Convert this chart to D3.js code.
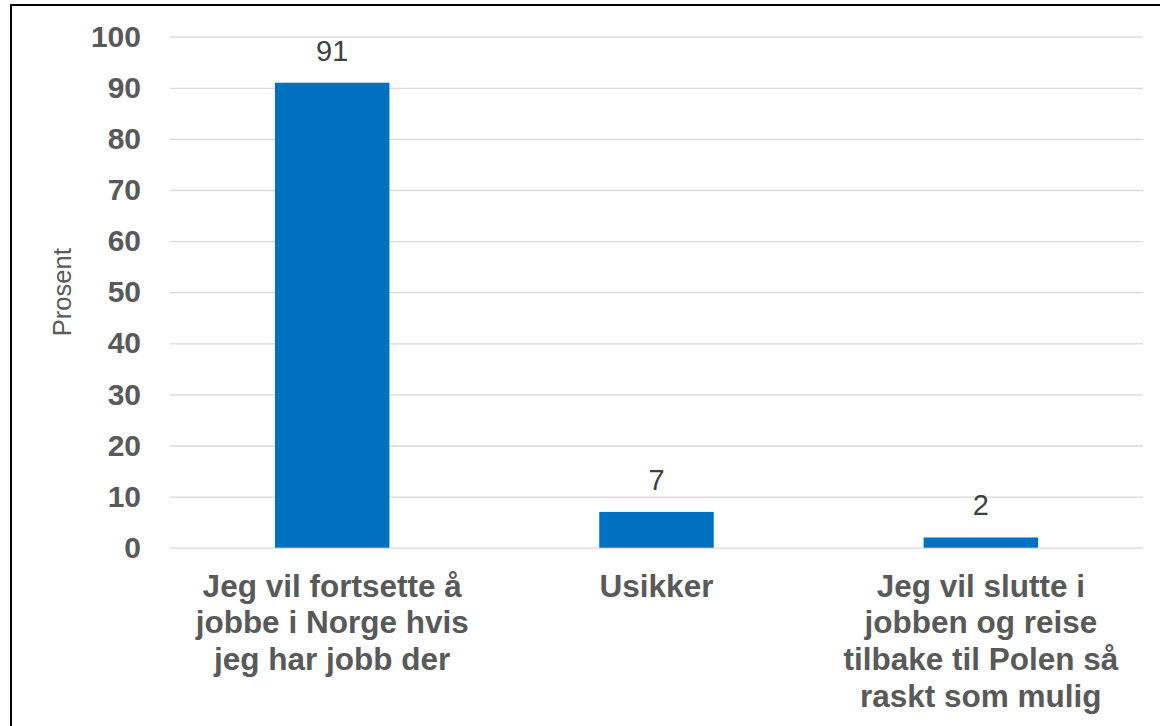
<!DOCTYPE html>
<html>
<head>
<meta charset="utf-8">
<script src="https://cdn.jsdelivr.net/npm/d3@7"></script>
<style>
  html, body { margin: 0; padding: 0; background: #fff; }
  svg { display: block; font-family: "Liberation Sans", Arial, sans-serif; }
</style>
</head>
<body>
<script>
(function () {
    "use strict";

    // data
    var categories = ["fortsette", "usikker", "slutte"];
    var values = [91, 7, 2];
    var categoryLines = [
        ["Jeg vil fortsette å", "jobbe i Norge hvis", "jeg har jobb der"],
        ["Usikker"],
        ["Jeg vil slutte i", "jobben og reise", "tilbake til Polen så", "raskt som mulig"]
    ];
    var yTicks = [0, 10, 20, 30, 40, 50, 60, 70, 80, 90, 100];
    var yTitle = "Prosent";

    var width = 1160, height = 726;
    var plot = {left: 170, right: 1143, top: 36.7, bottom: 547.7};

    var svg = d3.select("body").append("svg")
            .attr("width", width)
            .attr("height", height);

    svg.append("rect")
            .attr("width", width)
            .attr("height", height)
            .attr("fill", "white");

    // frame around the chart (runs off the right and bottom edges)
    svg.append("rect")
            .attr("x", 11)
            .attr("y", 5)
            .attr("width", width + 20)
            .attr("height", height + 20)
            .attr("fill", "none")
            .attr("stroke", "#000")
            .attr("stroke-width", 2);

    var x = d3.scaleBand()
            .domain(categories)
            .range([plot.left, plot.right])
            .paddingInner(0.647)
            .paddingOuter(0.3235);

    var y = d3.scaleLinear()
            .domain([0, 100])
            .range([plot.bottom, plot.top]);

    // gridlines + tick labels
    var yAxis = svg.append("g")
            .attr("transform", "translate(" + plot.left + ",0)")
            .call(d3.axisLeft(y)
                    .tickValues(yTicks)
                    .tickSize(-(plot.right - plot.left))
                    .tickPadding(29));

    yAxis.select(".domain").remove();
    yAxis.selectAll(".tick line")
            .attr("stroke", "#d9d9d9")
            .attr("stroke-width", 1.3);
    yAxis.selectAll(".tick text")
            .attr("fill", "#595959")
            .attr("font-size", "30px")
            .attr("font-weight", "bold")
            .attr("font-family", "'Liberation Sans', Arial, sans-serif");

    // bars
    svg.append("g").selectAll("rect")
            .data(values)
            .join("rect")
            .attr("x", function (d, i) { return x(categories[i]); })
            .attr("y", function (d) { return y(d); })
            .attr("width", x.bandwidth())
            .attr("height", function (d) { return y(0) - y(d); })
            .attr("fill", "#0070c0");

    // value labels
    svg.append("g").selectAll("text")
            .data(values)
            .join("text")
            .attr("x", function (d, i) { return x(categories[i]) + x.bandwidth() / 2; })
            .attr("y", function (d) { return y(d) - 22; })
            .attr("text-anchor", "middle")
            .attr("fill", "#404040")
            .attr("font-size", "29px")
            .text(function (d) { return d; });

    // category labels
    var cat = svg.append("g").selectAll("text")
            .data(categoryLines)
            .join("text")
            .attr("text-anchor", "middle")
            .attr("fill", "#595959")
            .attr("font-size", "31.5px")
            .attr("font-weight", "bold");

    cat.each(function (lines, i) {
        var cx = x(categories[i]) + x.bandwidth() / 2;
        d3.select(this).selectAll("tspan")
                .data(lines)
                .join("tspan")
                .attr("x", cx)
                .attr("y", function (d, j) { return 596.5 + j * 36.7; })
                .text(function (d) { return d; });
    });

    // y title
    svg.append("text")
            .attr("transform", "translate(71," + ((plot.top + plot.bottom) / 2) + ") rotate(-90)")
            .attr("text-anchor", "middle")
            .attr("fill", "#595959")
            .attr("font-size", "25.5px")
            .text(yTitle);
})();
</script>
</body>
</html>
